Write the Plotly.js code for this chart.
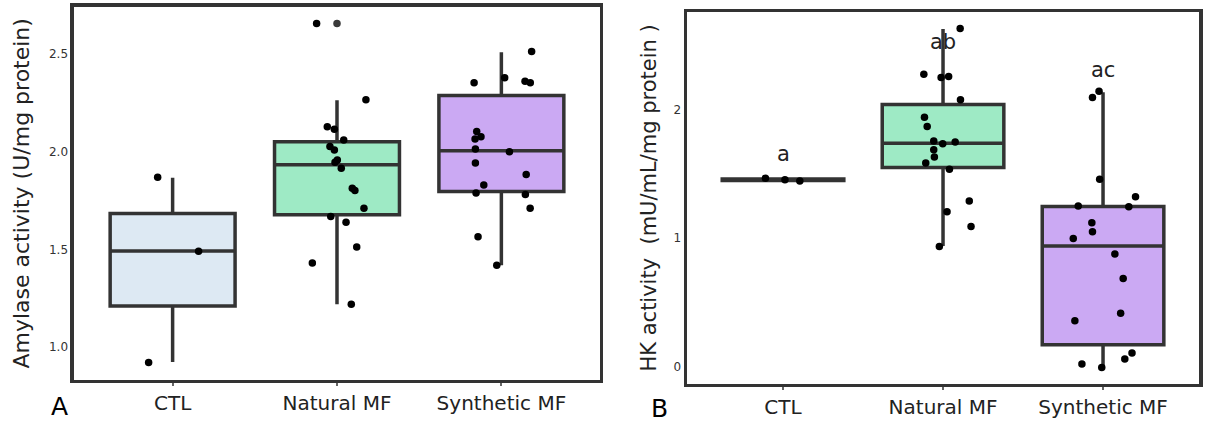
<!DOCTYPE html>
<html>
<head>
<meta charset="utf-8">
<script src="https://cdn.plot.ly/plotly-3.0.1.min.js"></script>
<style>html,body{margin:0;padding:0;background:#fff;}#chart{width:1207px;height:423px;}</style>
</head>
<body>
<div id="chart"></div>
<script>
// ---------- data ----------
const categories = ['CTL', 'Natural MF', 'Synthetic MF'];
const fills = ['#dde9f3', '#9eeac5', '#cba9f3'];

// Panel A: Amylase activity (U/mg protein)
const amyCTL = [0.92, 1.49, 1.87];
const amyCTLJit = [-0.146, 0.158, -0.091];
const amyNat = [2.657, 2.267, 2.128, 2.116, 2.060, 2.027, 2.009, 1.958, 1.946, 1.915, 1.813, 1.801, 1.711, 1.668, 1.639, 1.512, 1.430, 1.218];
const amyNatJit = [-0.124, 0.176, -0.059, -0.016, 0.041, -0.043, -0.016, 0.002, -0.012, 0.026, 0.093, 0.109, 0.164, -0.038, 0.055, 0.120, -0.150, 0.087];
const amySyn = [2.514, 2.379, 2.354, 2.362, 2.354, 2.104, 2.065, 2.077, 2.014, 2.000, 1.942, 1.883, 1.830, 1.789, 1.781, 1.711, 1.565, 1.418];
const amySynJit = [0.184, 0.020, -0.166, 0.144, 0.176, -0.150, -0.160, -0.124, -0.158, 0.049, -0.158, 0.151, -0.107, -0.154, 0.146, 0.175, -0.142, -0.028];
const amyLow = [0.923, 1.219, 1.418];
const amyQ1 = [1.209, 1.677, 1.796];
const amyMed = [1.491, 1.934, 2.005];
const amyQ3 = [1.684, 2.051, 2.289];
const amyHigh = [1.867, 2.264, 2.510];
const amyOutlierCat = [1];
const amyOutlier = [2.657];
const amyTickVals = [1.0, 1.5, 2.0, 2.5];
const amyTickText = ['1.0', '1.5', '2.0', '2.5'];

// Panel B: HK activity (mU/mL/mg protein)
const hkCTL = [1.466, 1.453, 1.443];
const hkCTLJit = [-0.110, 0.012, 0.105];
const hkNat = [2.632, 2.276, 2.250, 2.258, 2.077, 1.940, 1.868, 1.755, 1.734, 1.747, 1.688, 1.631, 1.584, 1.535, 1.288, 1.205, 1.089, 0.934];
const hkNatJit = [0.107, -0.120, -0.012, 0.035, 0.109, -0.116, -0.099, -0.058, -0.002, 0.076, -0.058, -0.054, -0.108, 0.040, 0.164, 0.025, 0.175, -0.023];
const hkSyn = [2.142, 2.095, 1.458, 1.321, 1.249, 1.244, 1.118, 1.048, 0.996, 0.875, 0.684, 0.413, 0.356, 0.104, 0.057, 0.019, -0.008];
const hkSynJit = [-0.025, -0.066, -0.021, 0.203, -0.155, 0.161, -0.070, -0.066, -0.186, 0.074, 0.126, 0.110, -0.176, 0.181, 0.136, -0.132, -0.008];
const hkLow = [1.443, 0.937, -0.008];
const hkQ1 = [1.448, 1.548, 0.168];
const hkMed = [1.453, 1.737, 0.937];
const hkQ3 = [1.460, 2.039, 1.246];
const hkHigh = [1.466, 2.627, 2.136];
const hkLetters = ['a', 'ab', 'ac'];
const hkLetterY = [1.652, 2.525, 2.31];
const hkTickVals = [0, 1, 2];
const hkTickText = ['0', '1', '2'];

// ---------- build ----------
const FONT = 'DejaVu Sans, sans-serif';
const traces = [];
function addBoxes(xa, ya, low, q1, med, q3, high) {
  for (let i = 0; i < categories.length; i++) {
    traces.push({
      type: 'box', xaxis: xa, yaxis: ya, x: [i],
      lowerfence: [low[i]], q1: [q1[i]], median: [med[i]], q3: [q3[i]], upperfence: [high[i]],
      boxpoints: false, width: 0.76, whiskerwidth: 0,
      fillcolor: fills[i], line: {color: '#333333', width: 3.5},
      hoverinfo: 'skip', showlegend: false
    });
  }
}
function addPoints(xa, ya, idx, vals, jit) {
  traces.push({
    type: 'scatter', mode: 'markers', xaxis: xa, yaxis: ya,
    x: vals.map((v, k) => idx + jit[k]), y: vals,
    marker: {color: '#000000', size: 7.5},
    hoverinfo: 'y', showlegend: false
  });
}

addBoxes('x', 'y', amyLow, amyQ1, amyMed, amyQ3, amyHigh);
traces.push({
  type: 'scatter', mode: 'markers', xaxis: 'x', yaxis: 'y',
  x: amyOutlierCat, y: amyOutlier,
  marker: {color: '#3a3a3a', size: 7.5}, hoverinfo: 'y', showlegend: false
});
addPoints('x', 'y', 0, amyCTL, amyCTLJit);
addPoints('x', 'y', 1, amyNat, amyNatJit);
addPoints('x', 'y', 2, amySyn, amySynJit);

addBoxes('x2', 'y2', hkLow, hkQ1, hkMed, hkQ3, hkHigh);
addPoints('x2', 'y2', 0, hkCTL, hkCTLJit);
addPoints('x2', 'y2', 1, hkNat, hkNatJit);
addPoints('x2', 'y2', 2, hkSyn, hkSynJit);

const frame = {showline: true, mirror: true, linecolor: '#333333', linewidth: 3.5, showgrid: false, zeroline: false, automargin: false};
const xCommon = Object.assign({}, frame, {
  range: [-0.6, 2.6], tickvals: [0, 1, 2], ticktext: categories,
  ticks: 'outside', ticklen: 3, tickwidth: 2, tickcolor: '#666666',
  tickfont: {family: FONT, size: 20, color: '#222222'}
});
const yCommon = Object.assign({}, frame, {
  ticks: '', tickfont: {family: FONT, size: 12, color: '#333333'}
});

const layout = {
  width: 1207, height: 423,
  margin: {l: 0, r: 0, t: 0, b: 0},
  paper_bgcolor: '#ffffff', plot_bgcolor: '#ffffff',
  showlegend: false,
  font: {family: FONT, color: '#222222'},
  xaxis: Object.assign({}, xCommon, {domain: [0.0613, 0.4971], anchor: 'y'}),
  yaxis: Object.assign({}, yCommon, {
    domain: [0.1024, 0.9835], anchor: 'x', range: [0.832, 2.742],
    tickvals: amyTickVals, ticktext: amyTickText,
    title: {text: 'Amylase activity (U/mg protein)', font: {family: FONT, size: 22, color: '#222222'}, standoff: 14}
  }),
  xaxis2: Object.assign({}, xCommon, {domain: [0.5692, 0.9934], anchor: 'y2'}),
  yaxis2: Object.assign({}, yCommon, {
    domain: [0.0929, 0.9716], anchor: 'x2', range: [-0.135, 2.76],
    tickvals: hkTickVals, ticktext: hkTickText,
    title: {text: 'HK activity\u00a0 (mU/mL/mg protein\u00a0)', font: {family: FONT, size: 21, color: '#222222'}, standoff: 12}
  }),
  annotations: [
    {text: 'A', xref: 'paper', yref: 'paper', x: 59 / 1207, y: 1 - 406 / 423, showarrow: false, xanchor: 'center', yanchor: 'middle', font: {family: FONT, size: 25, color: '#000000'}},
    {text: 'B', xref: 'paper', yref: 'paper', x: 659 / 1207, y: 1 - 408 / 423, showarrow: false, xanchor: 'center', yanchor: 'middle', font: {family: FONT, size: 25, color: '#000000'}}
  ].concat(hkLetters.map((t, i) => ({
    text: t, xref: 'x2', yref: 'y2', x: i, y: hkLetterY[i], showarrow: false,
    xanchor: 'center', yanchor: 'middle', font: {family: FONT, size: 21, color: '#222222'}
  })))
};

Plotly.newPlot('chart', traces, layout, {displayModeBar: false, staticPlot: true});
</script>
</body>
</html>
